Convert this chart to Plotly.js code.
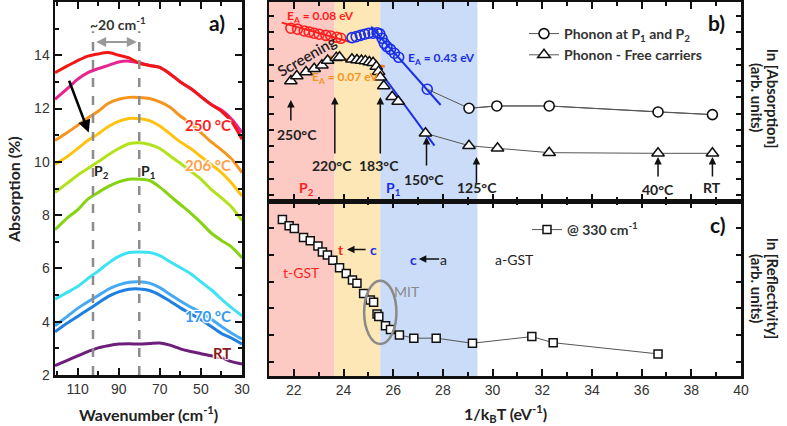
<!DOCTYPE html>
<html><head><meta charset="utf-8">
<script src="https://cdn.plot.ly/plotly-3.0.1.min.js"></script>
<style>html,body{margin:0;padding:0;background:#fff}#chart{width:787px;height:426px}</style>
</head><body><div id="chart"></div>
<script>
// ---------- Panel a : absorption spectra ----------
const wavenumber = [121,115,110,105,100,95,90,85,80,75,70,65,60,55,50,45,40,35,30];
const absRed     = [13.35,13.6,13.8,13.97,14.05,14.1,14.0,13.9,13.7,13.62,13.55,13.3,13.0,12.75,12.45,12.15,11.9,11.5,10.85];
const absMagenta = [12.35,12.75,13.1,13.35,13.5,13.62,13.75,13.78,13.72,13.62,13.55,13.3,13.0,12.75,12.45,12.15,11.95,11.6,11.1];
const absOrange  = [10.8,11.1,11.37,11.65,11.9,12.2,12.35,12.42,12.42,12.38,12.25,12.05,11.72,11.45,11.1,10.75,10.45,10.1,9.6];
const absYellow  = [9.9,10.2,10.5,10.8,11.05,11.33,11.52,11.63,11.62,11.55,11.35,11.05,10.75,10.5,10.2,9.9,9.6,9.2,8.72];
const absLime    = [8.85,9.2,9.5,9.75,10.0,10.27,10.5,10.68,10.72,10.65,10.5,10.22,9.95,9.65,9.35,8.97,8.65,8.3,7.8];
const absGreen   = [7.45,7.9,8.2,8.6,8.85,9.08,9.25,9.35,9.35,9.3,9.05,8.72,8.4,8.08,7.72,7.33,7.05,6.8,6.4];
const absCyan    = [4.85,5.1,5.32,5.62,5.9,6.2,6.45,6.6,6.62,6.6,6.48,6.25,6.03,5.8,5.5,5.2,4.85,4.52,4.22];
const absSky     = [3.85,4.2,4.5,4.75,4.98,5.22,5.38,5.48,5.5,5.45,5.28,5.02,4.78,4.55,4.35,4.1,3.82,3.57,3.35];
const absBlue    = [3.62,3.95,4.2,4.45,4.7,4.95,5.12,5.22,5.23,5.17,5.0,4.77,4.52,4.3,4.08,3.82,3.56,3.38,3.16];
const absPurple  = [2.35,2.55,2.72,2.88,3.02,3.1,3.16,3.17,3.16,3.18,3.2,3.12,2.98,2.88,2.8,2.72,2.65,2.5,2.41];
const peakP2 = 102.5, peakP1 = 80;

// ---------- Panel b : ln(absorption) vs 1/kBT ----------
const p2CircX = [21.88,22.15,22.42,22.62,22.82,23.02,23.29,23.49,23.73,23.89];
const p2CircY = [10.25,10.19,10.08,10.02,9.94,9.88,9.81,9.77,9.69,9.63];
const p1CircX = [24.34,24.51,24.68,24.85,25.01,25.19,25.35,25.46,25.55,25.64,25.75,25.89,26.05,26.22,27.37];
const p1CircY = [9.67,9.73,9.81,9.88,9.94,9.94,9.97,9.9,9.63,9.32,9.12,8.95,8.71,8.46,6.5];
const circTailX = [29.05,30.17,32.28,36.66,38.85];
const circTailY = [5.33,5.47,5.47,5.1,4.94];
const triX = [21.88,22.12,22.49,22.82,23.13,23.36,23.71,23.84,24.34,24.54,24.72,24.88,25.04,25.19,25.32,25.41,25.48,25.62,25.96,26.2];
const triY = [7.01,7.31,7.56,7.76,7.97,8.26,8.44,8.46,8.34,8.3,8.26,8.24,8.17,8.13,7.89,7.58,7.23,6.7,6.04,5.74];
const triTailX = [27.3,29.05,30.2,32.28,36.66,38.85];
const triTailY = [3.79,3.03,2.87,2.6,2.56,2.56];
const fitP2X = [21.51,24.24], fitP2Y = [10.59,9.42];
const fitP1X = [25.11,27.91], fitP1Y = [10.35,5.53];
const fitTriOX = [23.46,25.66], fitTriOY = [8.5,7.89];
const fitTriBX = [25.28,27.66], fitTriBY = [7.99,3.03];
const phaseEdges = [21,23.64,25.48,29.39];

// ---------- Panel c : ln(reflectivity) ----------
const sqX = [21.54,21.81,22.02,22.39,22.66,22.97,23.15,23.35,23.57,23.84,24.11,24.36,24.54,24.81,25.08,25.21,25.35,25.42,25.69,25.89];
const sqY = [5.34,5.1,5.0,4.66,4.54,4.34,4.12,4.0,3.81,3.52,3.31,3.06,2.94,2.56,2.31,2.23,1.79,1.69,1.35,1.21];
const sqTailX = [26.25,26.83,27.73,29.19,31.58,32.44,36.66];
const sqTailY = [1.0,0.88,0.88,0.69,0.94,0.71,0.29];

const LF = "Lato, 'Open Sans', sans-serif";
const TF = "'Liberation Sans', Arial, sans-serif";
const halo = '1px 1px 1px #fff, -1px -1px 1px #fff, 1px -1px 1px #fff, -1px 1px 1px #fff';

const specs = [
  [absMagenta,'#e4268e'],[absRed,'#f21717'],[absOrange,'#f7941d'],[absYellow,'#ffc20e'],
  [absLime,'#b2e21b'],[absGreen,'#86d312'],[absCyan,'#3ee3f2'],[absSky,'#45aaf2'],
  [absBlue,'#1f80e0'],[absPurple,'#6d1d7a']
];
const traces = specs.map(([y,c]) => ({
  x: wavenumber, y: y, xaxis:'x', yaxis:'y', mode:'lines', showlegend:false,
  line:{color:c, width:3, shape:'spline', smoothing:0.8}, hoverinfo:'skip'
}));

function lineTr(x,y,c,w){return {x:x,y:y,xaxis:'x2',yaxis:'y2',mode:'lines',showlegend:false,line:{color:c,width:w}};}
traces.push(lineTr(fitP2X,fitP2Y,'#ff1f1f',2));
traces.push(lineTr(fitP1X,fitP1Y,'#1a2fe6',2));
traces.push(lineTr(fitTriOX,fitTriOY,'#f07c14',2.5));
traces.push(lineTr(fitTriBX,fitTriBY,'#1a2fe6',2));
traces.push(lineTr([p1CircX[p1CircX.length-1]].concat(circTailX),[p1CircY[p1CircY.length-1]].concat(circTailY),'#555',1));
traces.push({x:p2CircX,y:p2CircY,xaxis:'x2',yaxis:'y2',mode:'markers',showlegend:false,
  marker:{symbol:'circle-open',size:10,color:'#ff1f1f',line:{width:1.6}}});
traces.push({x:p1CircX,y:p1CircY,xaxis:'x2',yaxis:'y2',mode:'markers',showlegend:false,
  marker:{symbol:'circle-open',size:10,color:'#1a2fe6',line:{width:1.6}}});
traces.push({x:circTailX,y:circTailY,xaxis:'x2',yaxis:'y2',mode:'lines+markers',legend:'legend',
  name:'Phonon at P<sub>1</sub> and P<sub>2</sub>',
  line:{color:'#555',width:1},
  marker:{symbol:'circle',size:10,color:'#fff',line:{color:'#111',width:1.6}}});
traces.push({x:triX,y:triY,xaxis:'x2',yaxis:'y2',mode:'markers',showlegend:false,
  marker:{symbol:'triangle-up',size:11,color:'#fff',line:{color:'#111',width:1.5}}});
traces.push({x:triTailX,y:triTailY,xaxis:'x2',yaxis:'y2',mode:'lines+markers',legend:'legend',
  name:'Phonon - Free carriers', line:{color:'#555',width:1},
  marker:{symbol:'triangle-up',size:11,color:'#fff',line:{color:'#111',width:1.5}}});
traces.push({x:sqX,y:sqY,xaxis:'x3',yaxis:'y3',mode:'markers',showlegend:false,
  marker:{symbol:'square',size:8,color:'#fff',line:{color:'#111',width:1.5}}});
traces.push({x:sqTailX,y:sqTailY,xaxis:'x3',yaxis:'y3',mode:'lines+markers',legend:'legend2',
  name:'@ 330 cm<sup>-1</sup>', line:{color:'#555',width:1},
  marker:{symbol:'square',size:8,color:'#fff',line:{color:'#111',width:1.5}}});

const tickFont = {family:TF,size:14,color:'#333'};
const axBase = {showgrid:false, zeroline:false, ticks:'inside', ticklen:7, tickwidth:2, tickcolor:'#111',
  showline:true, linecolor:'#111', linewidth:2.5, mirror:'ticks', tickfont:tickFont};
const PW=787, PH=426;
const px = v => v/PW, py = v => 1 - v/PH;

const layout = {
  width:PW, height:PH, margin:{l:0,r:0,t:0,b:0}, paper_bgcolor:'#fff', plot_bgcolor:'rgba(0,0,0,0)',
  font:{family:LF},
  xaxis: Object.assign({}, axBase, {domain:[px(55),px(242)], anchor:'y', range:[121,30],
    tickvals:[110,90,70,50,30], minor:{tickvals:[120,100,80,60,40],ticks:'inside',ticklen:4,tickwidth:2,tickcolor:'#111'}}),
  yaxis: Object.assign({}, axBase, {domain:[py(375),py(2)], anchor:'x', range:[2,16],
    tickvals:[2,4,6,8,10,12,14], minor:{tickvals:[3,5,7,9,11,13,15],ticks:'inside',ticklen:4,tickwidth:2,tickcolor:'#111'}}),
  xaxis2: Object.assign({}, axBase, {domain:[px(269),px(741)], anchor:'y2', range:[21,40], showticklabels:false,
    dtick:2, tick0:22, minor:{dtick:1,ticks:'inside',ticklen:4,tickwidth:2,tickcolor:'#111'}}),
  yaxis2: Object.assign({}, axBase, {domain:[py(201),py(2)], anchor:'x2', range:[-0.37,11.86], showticklabels:false,
    dtick:1, tick0:0, ticklen:5}),
  xaxis3: Object.assign({}, axBase, {domain:[px(269),px(741)], anchor:'y3', range:[21,40], matches:'x2',
    dtick:2, tick0:22, minor:{dtick:1,ticks:'inside',ticklen:4,tickwidth:2,tickcolor:'#111'}}),
  yaxis3: Object.assign({}, axBase, {domain:[py(376),py(201)], anchor:'x3', range:[-0.54,6.03], showticklabels:false,
    dtick:1, tick0:0, ticklen:5}),
  legend:{x:px(524),y:py(18),xanchor:'left',yanchor:'top',bgcolor:'rgba(0,0,0,0)',
    font:{family:LF,size:14,color:'#333',weight:700},tracegroupgap:0,itemwidth:30},
  legend2:{x:px(527),y:py(214),xanchor:'left',yanchor:'top',bgcolor:'rgba(0,0,0,0)',
    font:{family:LF,size:14,color:'#333',weight:700},itemwidth:30},
  shapes:[], annotations:[]
};

const phaseColors = ['#fcc9c3','#fde7b6','#cadcf8'];
for (let i=0;i<3;i++) layout.shapes.push({type:'rect',xref:'x2',yref:'paper',x0:phaseEdges[i],x1:phaseEdges[i+1],
  y0:py(376),y1:py(2),fillcolor:phaseColors[i],line:{width:0},layer:'below'});
[peakP2,peakP1].forEach(p=>layout.shapes.push({type:'line',xref:'x',yref:'y',x0:p,x1:p,y0:2,y1:14.9,
  line:{color:'#8c8c8c',width:2.5,dash:'dash'}}));
layout.shapes.push({type:'circle',xref:'x3',yref:'y3',x0:24.83,x1:26.13,y0:0.66,y1:3.04,line:{color:'#8a8a8a',width:2.5}});

const A = layout.annotations;
function txt(x,y,t,o){A.push(Object.assign({x:x,y:y,text:t,showarrow:false,xanchor:'center',yanchor:'middle'},o));}
function fnt(size,color,weight,extra){return Object.assign({family:LF,size:size,color:color,weight:weight||700},extra||{});}

txt(42.3,15.23,'a)',{xref:'x',yref:'y',font:fnt(21,'#111')});
txt(90.5,15.2,'~20 cm<sup>-1</sup>',{xref:'x',yref:'y',font:fnt(14,'#333')});
A.push({x:peakP1+1.2,y:14.5,ax:peakP2-0.8,ay:14.5,xref:'x',yref:'y',axref:'x',ayref:'y',text:'',showarrow:true,
  arrowhead:2,arrowside:'end+start',arrowsize:1,arrowwidth:2,arrowcolor:'#999'});
txt(98.2,9.65,'P<sub>2</sub>',{xref:'x',yref:'y',font:fnt(14,'#222')});
txt(75.7,9.65,'P<sub>1</sub>',{xref:'x',yref:'y',font:fnt(14,'#222')});
A.push({x:104.6,y:11.1,ax:114.4,ay:13.1,xref:'x',yref:'y',axref:'x',ayref:'y',text:'',showarrow:true,
  arrowhead:2,arrowsize:1,arrowwidth:2.5,arrowcolor:'#000'});
txt(46.4,11.4,'250 °C',{xref:'x',yref:'y',font:fnt(15,'#ff1f1f',700,{shadow:halo})});
txt(46.4,9.87,'206 °C',{xref:'x',yref:'y',font:fnt(15,'#ffa24a',700,{shadow:halo})});
txt(46.4,4.22,'170 °C',{xref:'x',yref:'y',font:fnt(15,'#3399f5',700,{shadow:halo})});
txt(39.9,2.81,'RT',{xref:'x',yref:'y',font:fnt(15,'#8b1a1a',700,{shadow:halo})});

txt(px(13),py(190),'Absorption (%)',{xref:'paper',yref:'paper',textangle:-90,font:fnt(16,'#222')});
txt(px(148),py(413),'Wavenumber (cm<sup>-1</sup>)',{xref:'paper',yref:'paper',font:fnt(16,'#222')});
txt(px(505),py(413),'1/k<sub>B</sub>T (eV<sup>-1</sup>)',{xref:'paper',yref:'paper',font:fnt(16,'#222')});
txt(px(773),py(98),'ln [Absorption]',{xref:'paper',yref:'paper',textangle:90,font:fnt(15,'#222')});
txt(px(757),py(97),'(arb. units)',{xref:'paper',yref:'paper',textangle:90,font:fnt(15,'#222')});
txt(px(773),py(288),'ln [Reflectivity]',{xref:'paper',yref:'paper',textangle:90,font:fnt(15,'#222')});
txt(px(757),py(288),'(arb. units)',{xref:'paper',yref:'paper',textangle:90,font:fnt(15,'#222')});

txt(39.0,10.57,'b)',{xref:'x2',yref:'y2',font:fnt(21,'#111')});
txt(23.06,10.96,'E<sub>A</sub> = 0.08 eV',{xref:'x2',yref:'y2',font:fnt(12,'#ff1f1f')});
txt(24.07,7.2,'E<sub>A</sub> = 0.07 eV',{xref:'x2',yref:'y2',font:fnt(12,'#f7941d')});
txt(27.94,8.4,'E<sub>A</sub> = 0.43 eV',{xref:'x2',yref:'y2',font:fnt(12,'#1a2fe6')});
txt(22.5,8.55,'Screening',{xref:'x2',yref:'y2',textangle:-30,font:fnt(15,'#222',600)});
txt(22.51,0.41,'P<sub>2</sub>',{xref:'x2',yref:'y2',font:fnt(14,'#ff1f1f')});
txt(26.01,0.41,'P<sub>1</sub>',{xref:'x2',yref:'y2',font:fnt(14,'#1a2fe6')});
const tempMarks = [
  [21.88,5.84,22,'250°C',22.12,3.69],
  [23.65,6.02,58,'220°C',23.53,1.8],
  [25.48,6.02,58,'183°C',25.43,1.8],
  [27.34,3.56,30,'150°C',27.22,0.98],
  [29.35,2.34,28,'125°C',29.39,0.47],
  [36.66,2.34,21,'40°C',36.66,0.31],
  [38.85,2.34,21,'RT',38.85,0.43]
];
tempMarks.forEach(m=>{
  A.push({x:m[0],y:m[1],ax:0,ay:m[2],xref:'x2',yref:'y2',text:'',showarrow:true,arrowhead:2,arrowsize:1,arrowwidth:1.5,arrowcolor:'#111'});
  txt(m[4],m[5],m[3],{xref:'x2',yref:'y2',font:fnt(14,'#222')});
});

txt(39.08,5.13,'c)',{xref:'x3',yref:'y3',font:fnt(21,'#111')});
txt(23.9,4.21,'t',{xref:'x3',yref:'y3',font:fnt(14,'#ff1f1f')});
A.push({x:24.14,y:4.21,ax:24.95,ay:4.21,xref:'x3',yref:'y3',axref:'x3',ayref:'y3',text:'',showarrow:true,arrowhead:2,arrowsize:1,arrowwidth:1.5,arrowcolor:'#111'});
txt(25.19,4.21,'c',{xref:'x3',yref:'y3',font:fnt(14,'#1a2fe6')});
txt(26.8,3.85,'c',{xref:'x3',yref:'y3',font:fnt(14,'#1a2fe6')});
A.push({x:27.03,y:3.85,ax:27.91,ay:3.85,xref:'x3',yref:'y3',axref:'x3',ayref:'y3',text:'',showarrow:true,arrowhead:2,arrowsize:1,arrowwidth:1.5,arrowcolor:'#111'});
txt(28.04,3.85,'a',{xref:'x3',yref:'y3',font:fnt(14,'#222',400)});
txt(22.32,3.35,'t-GST',{xref:'x3',yref:'y3',font:fnt(14,'#ff1f1f',400)});
txt(30.9,3.85,'a-GST',{xref:'x3',yref:'y3',font:fnt(14,'#222',400)});
txt(26.56,2.62,'MIT',{xref:'x3',yref:'y3',font:fnt(14,'#8a8a8a',400)});

Plotly.newPlot('chart', traces, layout, {staticPlot:true, displayModeBar:false});
</script></body></html>
